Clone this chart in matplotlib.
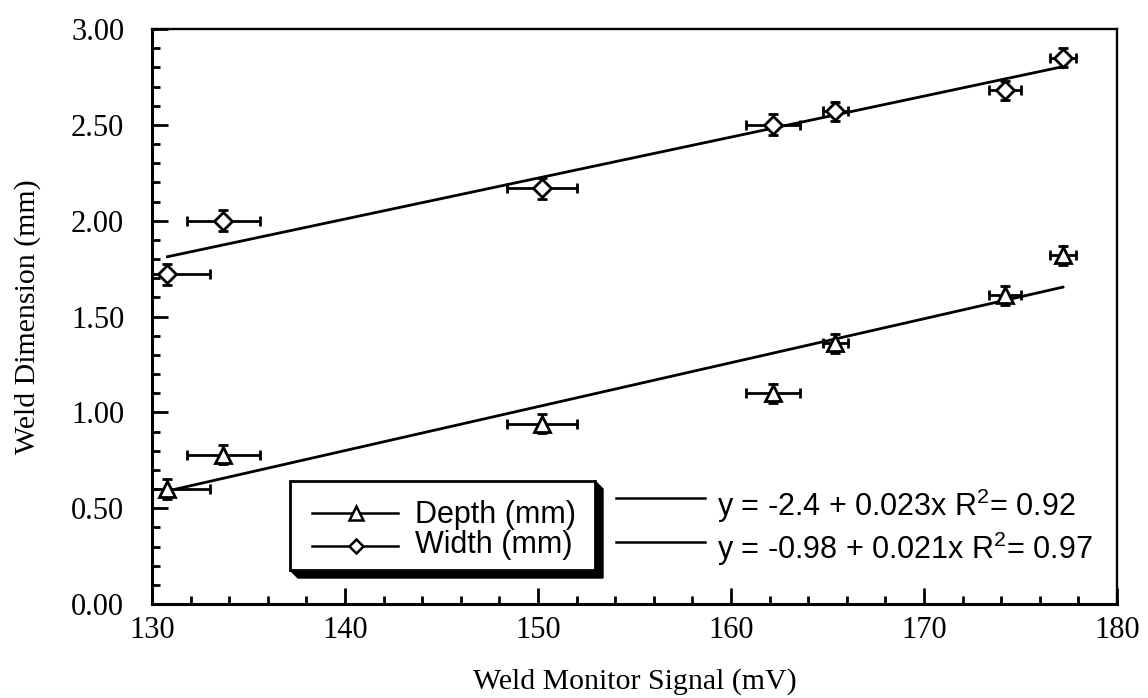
import numpy as np
import matplotlib
matplotlib.use("Agg")
import matplotlib.pyplot as plt
from matplotlib.lines import Line2D
from matplotlib.patches import Rectangle, Polygon
from matplotlib.ticker import MultipleLocator, FormatStrFormatter

# datos
signal_mv = [130.8, 133.7, 150.2, 162.2, 165.4, 174.2, 177.2]
signal_err = [2.2, 1.9, 1.8, 1.4, 0.65, 0.85, 0.65]
depth_mm = [0.60, 0.78, 0.94, 1.10, 1.36, 1.61, 1.82]
depth_err = [0.05, 0.05, 0.05, 0.05, 0.05, 0.05, 0.05]
width_mm = [1.72, 2.00, 2.17, 2.50, 2.57, 2.68, 2.85]
width_err = [0.055, 0.055, 0.055, 0.055, 0.05, 0.05, 0.05]
series_labels = ["Depth (mm)", "Width (mm)"]
fit_labels = [r"y = -2.4 + 0.023x R$^{2}$= 0.92", r"y = -0.98 + 0.021x R$^{2}$= 0.97"]

plt.rcParams["mathtext.default"] = "regular"
serif = "Liberation Serif"
sans = "Liberation Sans"

W, H = 1148, 698
fig = plt.figure(figsize=(W / 100, H / 100), dpi=100)
ax = fig.add_axes([152 / W, 94 / H, 965 / W, 575 / H])

def fpx(x, y):
    # pixel -> figure fraction
    return x / W, 1 - y / H

x = np.array(signal_mv)
for ys, yerr, mk, ms in [(depth_mm, depth_err, "^", 12), (width_mm, width_err, "D", 8.7)]:
    coef = np.polyfit(x, ys, 1)
    xs = np.array([x.min(), x.max()])
    ax.plot(xs, np.polyval(coef, xs), color="black", lw=2.0, zorder=2)
    ax.errorbar(x, ys, xerr=signal_err, yerr=yerr, fmt=mk, ms=ms, mfc="white",
                mec="black", mew=2.0, ecolor="black", elinewidth=2.0,
                capsize=3.8, capthick=2.0, zorder=3)

ax.set_xlim(130, 180)
ax.set_ylim(0, 3)
ax.xaxis.set_major_locator(MultipleLocator(10))
ax.xaxis.set_minor_locator(MultipleLocator(2))
ax.yaxis.set_major_locator(MultipleLocator(0.5))
ax.yaxis.set_minor_locator(MultipleLocator(0.1))
ax.yaxis.set_major_formatter(FormatStrFormatter("%.2f"))
ax.tick_params(which="both", direction="in", top=False, right=False, width=2.0, labelsize=22)
ax.tick_params(which="major", length=11.5)
ax.tick_params(which="minor", length=6)
ax.tick_params(axis="x", pad=9)
ax.tick_params(axis="y", pad=20)
for lab in ax.get_xticklabels() + ax.get_yticklabels():
    lab.set_fontfamily(serif)
for side in ["left", "bottom"]:
    ax.spines[side].set_linewidth(2.2)
for side in ["top", "right"]:
    ax.spines[side].set_linewidth(1.7)

ax.set_xlabel("Weld Monitor Signal (mV)", fontsize=21.5, fontfamily=serif)
ax.set_ylabel("Weld Dimension (mm)", fontsize=21.5, fontfamily=serif)
ax.xaxis.set_label_coords(0.5, -0.112)
ax.yaxis.set_label_coords(-0.115, 0.5)

# leyenda hecha a mano con sombra negra
L, R, T, B, d = 290, 595, 481, 570, 8
shadow = Polygon([fpx(R, T), fpx(R + d, T + d), fpx(R + d, B + d), fpx(L + d, B + d), fpx(L, B)],
                 closed=True, transform=fig.transFigure, facecolor="black", edgecolor="black")
fig.add_artist(shadow)
x0, y0 = fpx(L, B)
x1, y1 = fpx(R, T)
fig.add_artist(Rectangle((x0, y0), x1 - x0, y1 - y0, transform=fig.transFigure,
                         facecolor="white", edgecolor="black", lw=2.0))

rows = [(513, 523, "^", 10.5), (546, 553, "D", 7.5)]
for (ly, base, mk, ms), lab in zip(rows, series_labels):
    a = fpx(312, ly)
    b = fpx(398, ly)
    fig.add_artist(Line2D([a[0], b[0]], [a[1], b[1]], color="black", lw=1.8, transform=fig.transFigure))
    m = fpx(356, ly)
    fig.add_artist(Line2D([m[0]], [m[1]], marker=mk, ms=ms, mfc="white", mec="black", mew=1.8,
                          transform=fig.transFigure))
    t = fpx(415, base)
    fig.text(t[0], t[1], lab, fontsize=22, fontfamily=sans, va="baseline", ha="left")

for ly, base, lab in zip([498, 542], [516, 559], fit_labels):
    a = fpx(616, ly)
    b = fpx(705, ly)
    fig.add_artist(Line2D([a[0], b[0]], [a[1], b[1]], color="black", lw=1.8, transform=fig.transFigure))
    t = fpx(717, base)
    fig.text(t[0], t[1], lab, fontsize=22, fontfamily=sans, va="baseline", ha="left")

fig.savefig("out.png", dpi=100)
